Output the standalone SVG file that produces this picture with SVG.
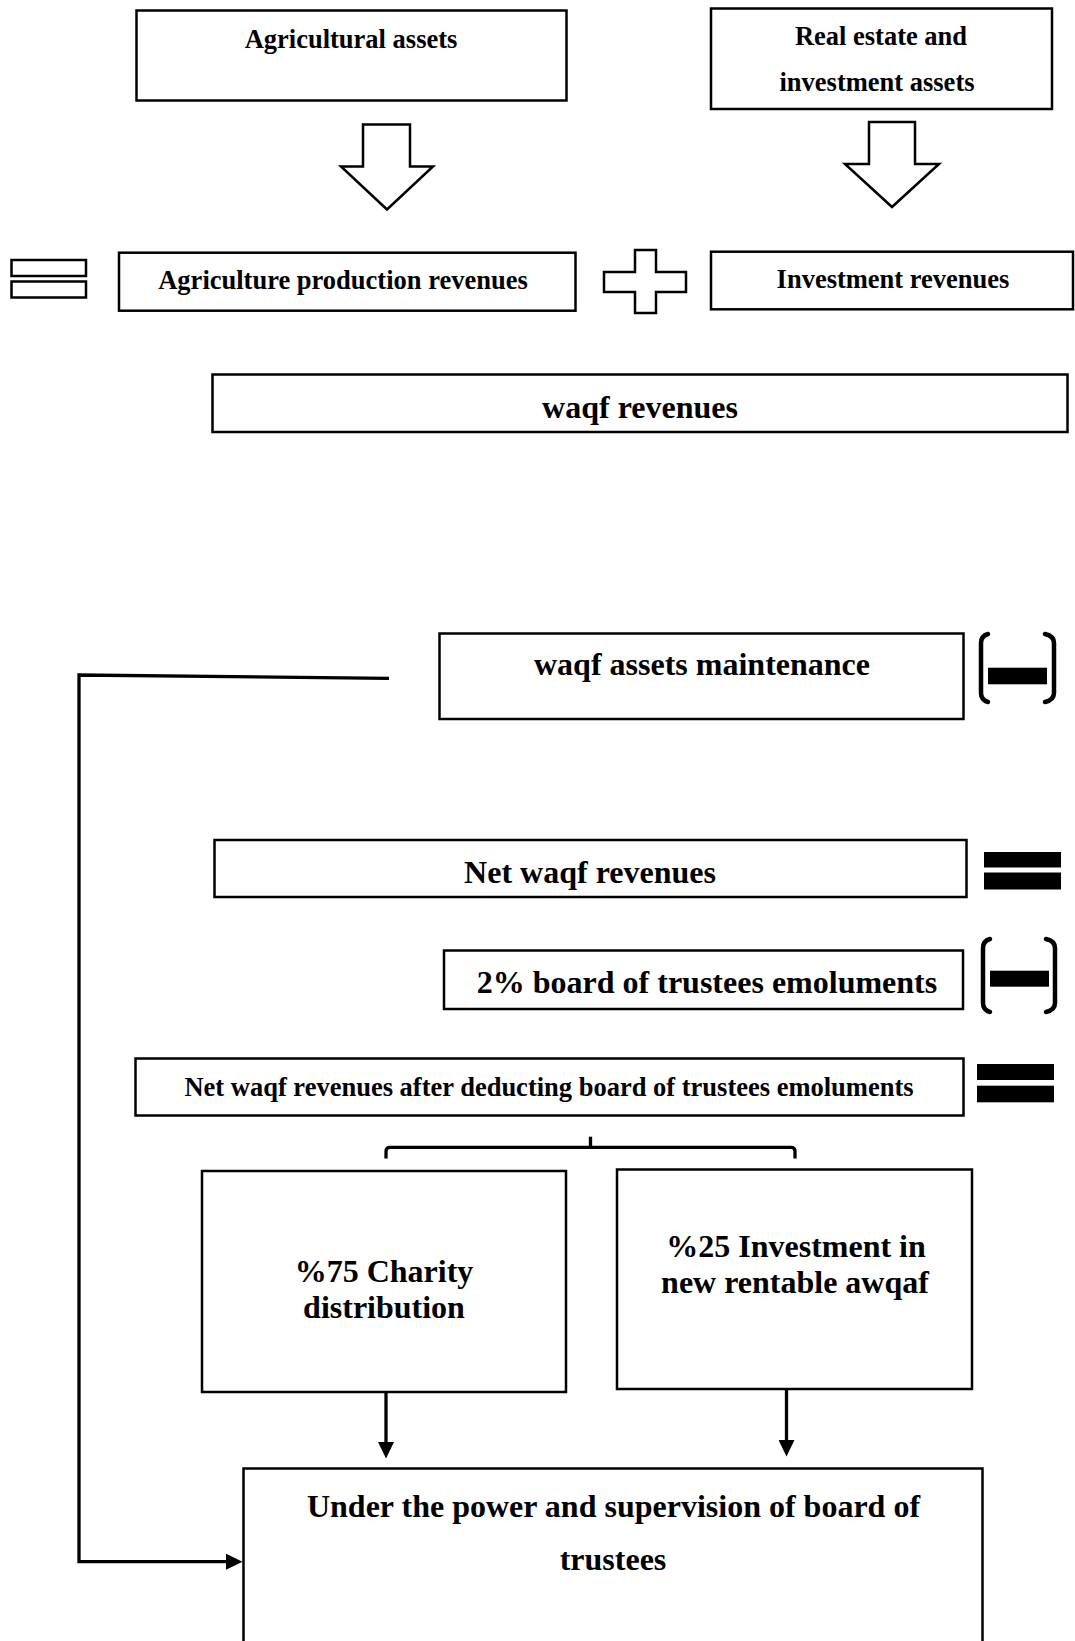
<svg xmlns="http://www.w3.org/2000/svg" width="1075" height="1641" viewBox="0 0 1075 1641">
  <defs>
    <style>
      .box { fill: #ffffff; stroke: #000000; stroke-width: 2.5; }
      .shape { fill: #ffffff; stroke: #000000; stroke-width: 2.5; stroke-linejoin: miter; }
      .solid { fill: #000000; stroke: none; }
      .paren { fill: none; stroke: #000000; stroke-width: 4.5; stroke-linecap: round; }
      .wire { fill: none; stroke: #000000; stroke-width: 3.3; }
      .t { font-family: "Liberation Serif", "Times New Roman", serif; font-weight: bold; fill: #000000; text-anchor: middle; }
      .s { font-size: 26.5px; }
      .l { font-size: 32px; }
    </style>
    <marker id="arrow" markerUnits="userSpaceOnUse" markerWidth="17" markerHeight="16" refX="7" refY="8" orient="auto">
      <path d="M0,0 L16.5,8 L0,16 z" fill="#000000"/>
    </marker>
  </defs>

  <rect width="1075" height="1641" fill="#ffffff"/>

  <!-- sources -->
  <g id="agricultural-assets">
    <rect class="box" x="136.5" y="10.5" width="430" height="90"/>
    <text class="t s" x="351" y="48">Agricultural assets</text>
  </g>
  <g id="real-estate-assets">
    <rect class="box" x="711" y="8.5" width="341" height="100.5"/>
    <text class="t s" x="881" y="44.5">Real estate and</text>
    <text class="t s" x="877" y="90.5">investment assets</text>
  </g>

  <!-- hollow block arrows -->
  <g id="block-arrow-left">
    <polygon class="shape" points="363,124.5 410,124.5 410,166.5 433,166.5 387,209.5 341,166.5 363,166.5"/>
  </g>
  <g id="block-arrow-right">
    <polygon class="shape" points="869,122 915,122 915,164 939,164 892,207 845,164 869,164"/>
  </g>

  <!-- revenue line -->
  <g id="equals-outline">
    <rect class="shape" x="11.5" y="260" width="74.5" height="16"/>
    <rect class="shape" x="11.5" y="281.5" width="74.5" height="16"/>
  </g>
  <g id="agriculture-production-revenues">
    <rect class="box" x="119" y="252.7" width="456.5" height="58"/>
    <text class="t s" x="343" y="289">Agriculture production revenues</text>
  </g>
  <g id="plus-outline">
    <polygon class="shape" points="635,250 656,250 656,272 686,272 686,292 656,292 656,313 635,313 635,292 604,292 604,272 635,272"/>
  </g>
  <g id="investment-revenues">
    <rect class="box" x="711" y="251.7" width="362" height="57.6"/>
    <text class="t s" x="893" y="287.5">Investment revenues</text>
  </g>

  <g id="waqf-revenues">
    <rect class="box" x="212.5" y="374.5" width="855" height="57.5"/>
    <text class="t l" x="640" y="417.5">waqf revenues</text>
  </g>

  <g id="waqf-assets-maintenance">
    <rect class="box" x="439.5" y="633.5" width="524" height="85.5"/>
    <text class="t l" x="702" y="675">waqf assets maintenance</text>
  </g>
  <g id="minus-1">
    <path class="paren" d="M988,634 Q981,636 981,643 L981,693 Q981,700 988,702"/>
    <path class="paren" d="M1045,634 Q1054,636 1054,643 L1054,693 Q1054,700 1045,702"/>
    <rect class="solid" x="988" y="667.7" width="59" height="16.6"/>
  </g>

  <g id="net-waqf-revenues">
    <rect class="box" x="214.5" y="840" width="752" height="57"/>
    <text class="t l" x="590" y="882.5">Net waqf revenues</text>
  </g>
  <g id="equals-1">
    <rect class="solid" x="984" y="852" width="77" height="15.5"/>
    <rect class="solid" x="984" y="872.5" width="77" height="17"/>
  </g>

  <g id="trustees-emoluments">
    <rect class="box" x="444" y="950.5" width="519" height="58.5"/>
    <text class="t l" x="707" y="992.5">2% board of trustees emoluments</text>
  </g>
  <g id="minus-2">
    <path class="paren" d="M990,939 Q983,941 983,948 L983,1003 Q983,1010 990,1012"/>
    <path class="paren" d="M1046,939 Q1055,941 1055,948 L1055,1003 Q1055,1010 1046,1012"/>
    <rect class="solid" x="990" y="970.7" width="59" height="16"/>
  </g>

  <g id="net-after-emoluments">
    <rect class="box" x="135.5" y="1058.5" width="828" height="57"/>
    <text class="t s" x="549" y="1095.5">Net waqf revenues after deducting board of trustees emoluments</text>
  </g>
  <g id="equals-2">
    <rect class="solid" x="977" y="1064" width="77" height="16"/>
    <rect class="solid" x="977" y="1085.7" width="77" height="16.6"/>
  </g>

  <g id="charity-distribution">
    <rect class="box" x="202" y="1171" width="364" height="221"/>
    <text class="t l" x="384" y="1281.5">%75 Charity</text>
    <text class="t l" x="384" y="1318">distribution</text>
  </g>
  <g id="new-awqaf-investment">
    <rect class="box" x="617" y="1169.5" width="355" height="219.5"/>
    <text class="t l" x="796" y="1256.5">%25 Investment in</text>
    <text class="t l" x="795" y="1293">new rentable awqaf</text>
  </g>

  <g id="board-supervision">
    <rect class="box" x="243.5" y="1468.5" width="739" height="200"/>
    <text class="t l" x="613.5" y="1517">Under the power and supervision of board of</text>
    <text class="t l" x="613" y="1570">trustees</text>
  </g>

  <!-- connectors -->
  <g id="connectors">
    <path class="wire" d="M389,678.3 L79,675 L79,1561.7 L233,1561.7" marker-end="url(#arrow)"/>
    <path class="wire" d="M386,1392 L386,1449" marker-end="url(#arrow)"/>
    <path class="wire" d="M786.5,1389 L786.5,1447" marker-end="url(#arrow)"/>
    <path class="wire" d="M386,1158.5 L386,1151.3 Q386,1147.3 390,1147.3 L791,1147.3 Q795,1147.3 795,1151.3 L795,1158.5"/>
    <path class="wire" d="M590.5,1136.7 L590.5,1147.3"/>
  </g>
</svg>
